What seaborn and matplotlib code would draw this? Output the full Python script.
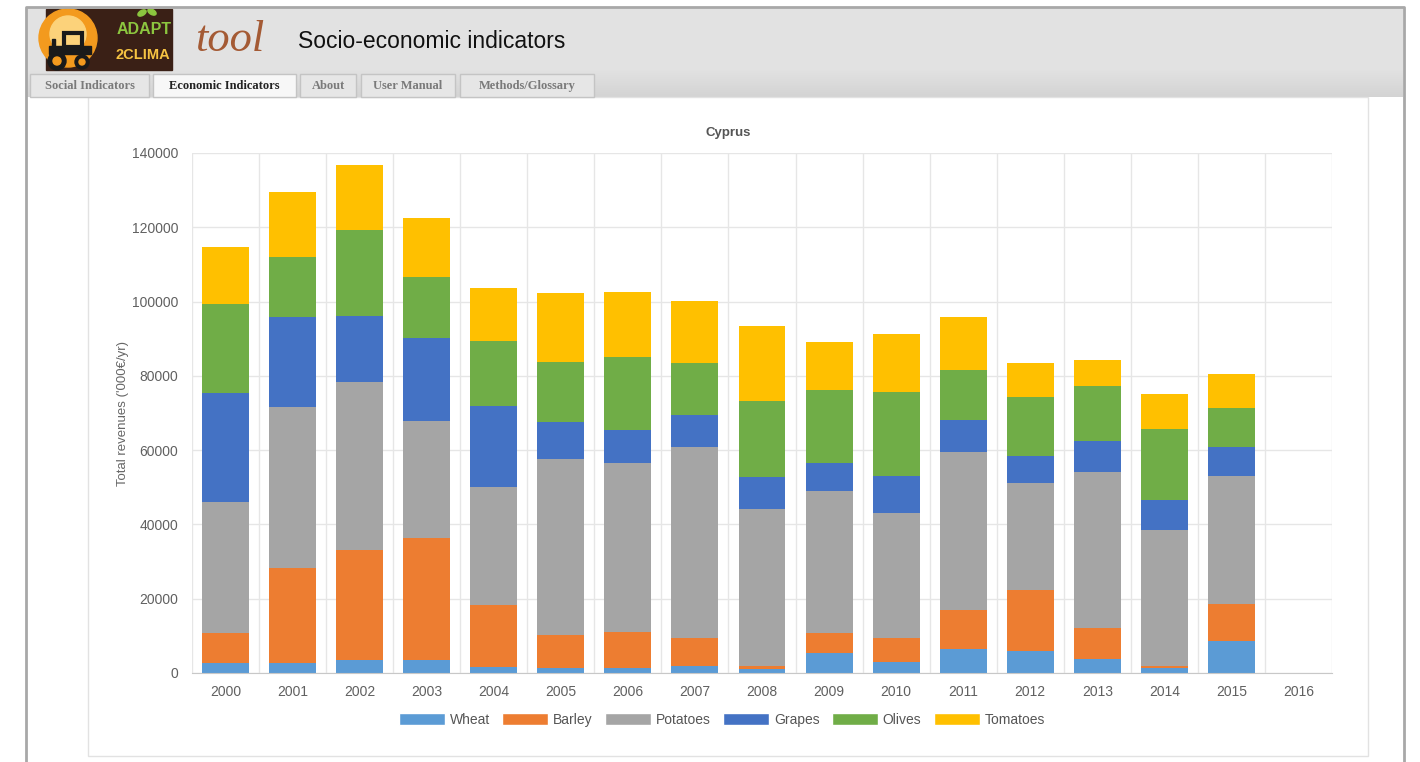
import numpy as np
import pandas as pd
import matplotlib.pyplot as plt
import matplotlib.patches as mpatches
import seaborn as sns

# revenues per crop ('000 EUR/yr)
years = ['2000', '2001', '2002', '2003', '2004', '2005', '2006', '2007', '2008',
         '2009', '2010', '2011', '2012', '2013', '2014', '2015', '2016']
wheat = [2700, 2700, 3500, 3500, 1700, 1400, 1300, 1900, 1100,
         5300, 3000, 6400, 5900, 3700, 1300, 8700, 0]
barley = [8100, 25600, 29600, 32800, 16600, 8800, 9800, 7600, 900,
          5400, 6300, 10600, 16400, 8500, 700, 9800, 0]
potatoes = [35200, 43300, 45200, 31500, 31900, 47300, 45500, 51400, 42200,
            38300, 33700, 42400, 28800, 42000, 36500, 34600, 0]
grapes = [29400, 24200, 17800, 22500, 21700, 10100, 8700, 8500, 8600,
          7600, 10000, 8700, 7400, 8300, 8100, 7700, 0]
olives = [23900, 16200, 23200, 16400, 17500, 16000, 19900, 14100, 20400,
          19600, 22700, 13500, 15900, 14800, 19100, 10500, 0]
tomatoes = [15400, 17500, 17400, 15800, 14200, 18600, 17400, 16700, 20200,
            12800, 15700, 14300, 9100, 7100, 9300, 9200, 0]

crops = ['Wheat', 'Barley', 'Potatoes', 'Grapes', 'Olives', 'Tomatoes']
colors = ['#5B9BD5', '#ED7D31', '#A5A5A5', '#4472C4', '#70AD47', '#FFC000']

df = pd.DataFrame({'year': years, 'Wheat': wheat, 'Barley': barley,
                   'Potatoes': potatoes, 'Grapes': grapes, 'Olives': olives,
                   'Tomatoes': tomatoes})
# cumulative tops for the stacking
cum = df[crops].cumsum(axis=1)
cum['year'] = df['year']

sns.set_style('white')
plt.rcParams['font.family'] = ['Liberation Sans', 'DejaVu Sans']

W, H = 1420, 762
fig = plt.figure(figsize=(W / 100, H / 100), dpi=100)
fig.patch.set_facecolor('white')

# background "page" drawn in pixel coordinates
bg = fig.add_axes([0, 0, 1, 1], zorder=0)
bg.set_xlim(0, W)
bg.set_ylim(H, 0)
bg.axis('off')

# header band with a soft vertical gradient
grad = np.concatenate([np.full(60, 0.89), np.linspace(0.89, 0.83, 30)])
bg.imshow(np.dstack([grad[:, None]] * 3) * np.ones((1, 2, 1)),
          extent=(27, 1403, 97, 8), aspect='auto', zorder=1)
# page border
bg.plot([26, 26, 1404, 1404], [H, 7, 7, H], color='#a8a8a8', lw=2, zorder=5)
# chart panel
bg.add_patch(mpatches.Rectangle((88, 97), 1280, 659, fill=False,
                                edgecolor='#e2e2e2', lw=1, zorder=2))

# logo
bg.add_patch(mpatches.Rectangle((46, 9), 126, 61, color='#3a2016', zorder=2))
bg.add_patch(mpatches.Circle((68, 38), 29, color='#f39a1e', zorder=3))
bg.add_patch(mpatches.Circle((68, 34), 18, color='#fcd27a', zorder=3))
bg.add_patch(mpatches.Rectangle((49, 46), 42, 8, color='#1a1a1a', zorder=4))
bg.add_patch(mpatches.Rectangle((64, 33), 18, 14, fill=False, edgecolor='#1a1a1a', lw=3, zorder=4))
bg.add_patch(mpatches.Rectangle((52, 39), 3, 8, color='#1a1a1a', zorder=4))
bg.add_patch(mpatches.Circle((57, 61), 9, color='#1a1a1a', zorder=4))
bg.add_patch(mpatches.Circle((57, 61), 4, color='#f39a1e', zorder=4))
bg.add_patch(mpatches.Circle((82, 62), 7, color='#1a1a1a', zorder=4))
bg.add_patch(mpatches.Circle((82, 62), 3, color='#f39a1e', zorder=4))
bg.add_patch(mpatches.Ellipse((142, 13), 9, 5, angle=-30, color='#8cc63f', zorder=4))
bg.add_patch(mpatches.Ellipse((152, 12), 9, 5, angle=30, color='#8cc63f', zorder=4))
bg.text(144, 29, 'ADAPT', color='#8cc63f', fontsize=11.5, fontweight='bold',
        ha='center', va='center', zorder=4)
bg.text(143, 55, '2CLIMA', color='#f6c342', fontsize=10.5, fontweight='bold',
        ha='center', va='center', zorder=4)
bg.text(195, 40, 'tool', color='#a45a34', fontsize=32, fontstyle='italic',
        family=['Liberation Serif'], ha='left', va='center', zorder=4)
bg.text(298, 41, 'Socio-economic indicators', color='#111111', fontsize=16.5,
        ha='left', va='center', zorder=4)

# tabs
tab_names = ['Social Indicators', 'Economic Indicators', 'About', 'User Manual',
             'Methods/Glossary']
tab_x = [(30, 149), (153, 296), (300, 356), (361, 455), (460, 594)]
for i, (name, (x0, x1)) in enumerate(zip(tab_names, tab_x)):
    active = (i == 1)
    bg.add_patch(mpatches.Rectangle((x0, 74), x1 - x0, 23,
                                    facecolor='#f7f7f7' if active else '#e6e6e6',
                                    edgecolor='#c4c4c4', lw=1, zorder=3))
    bg.text((x0 + x1) / 2, 89, name, family=['Liberation Serif'],
            fontsize=9, fontweight='bold',
            color='#222222' if active else '#7a7a7a',
            ha='center', va='baseline', zorder=4)

# chart
ax = fig.add_axes([192 / W, 1 - 673 / H, (1332 - 192) / W, 520 / H], zorder=1)
ax.patch.set_alpha(0)
for crop, color in reversed(list(zip(crops, colors))):
    sns.barplot(data=cum, x='year', y=crop, order=years, color=color,
                saturation=1, width=0.7, errorbar=None, linewidth=0, ax=ax)

ax.set_xlim(-0.5, len(years) - 0.5)
ax.set_ylim(0, 140000)
ax.set_yticks(np.arange(0, 140001, 20000))
ax.set_yticklabels([str(v) for v in range(0, 140001, 20000)])
ax.set_xticks(np.arange(-0.5, len(years), 1), minor=True)
ax.set_axisbelow(True)
ax.grid(axis='y', which='major', color='#e6e6e6', lw=1)
ax.grid(axis='x', which='minor', color='#e6e6e6', lw=1)
ax.grid(axis='x', which='major', visible=False)
ax.tick_params(axis='x', which='major', length=0, pad=9, labelsize=10, labelcolor='#606060')
ax.tick_params(axis='x', which='minor', length=10, color='#e0e0e0', width=1)
ax.tick_params(axis='y', length=8, color='#e6e6e6', pad=2, labelsize=10, labelcolor='#606060')
for s in ['top', 'right', 'left']:
    ax.spines[s].set_visible(False)
ax.spines['bottom'].set_color('#c8c8c8')
ax.set_xlabel('')
ax.set_ylabel("Total revenues ('000€/yr)", fontsize=9.5, color='#666666', labelpad=2)

fig.text(728 / W, 1 - 133 / H, 'Cyprus', ha='center', va='center',
         fontsize=9.5, fontweight='bold', color='#555555')

handles = [mpatches.Patch(facecolor=c, label=n) for n, c in zip(crops, colors)]
leg = fig.legend(handles=handles, loc='center', ncol=6,
                 bbox_to_anchor=(722 / W, 1 - 720 / H), frameon=False,
                 handlelength=3.3, handleheight=1.0, handletextpad=0.35,
                 columnspacing=0.9, fontsize=10)
for t in leg.get_texts():
    t.set_color('#555555')

fig.savefig('out.png', dpi=100)
